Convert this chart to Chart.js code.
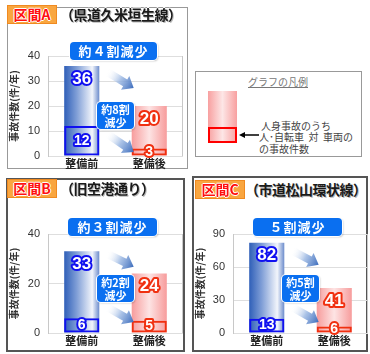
<!DOCTYPE html>
<html>
<head>
<meta charset="utf-8">
<script src="https://cdn.jsdelivr.net/npm/chart.js@4"></script>
<style>
  body { margin: 0; width: 370px; height: 354px; background: #fff; position: relative; overflow: hidden;
         font-family: 'Noto Sans CJK JP', sans-serif; }
  .abs { position: absolute; }
  .panel { position: absolute; box-sizing: border-box; }
  .tag { position: absolute; box-sizing: border-box; background: #f9a640; border: 1px solid #f08a20;
         color: #ff1010; font-weight: bold; font-size: 14px; line-height: 17px; text-align: center;
         text-shadow: -1px 0 #fff, 1px 0 #fff, 0 -1px #fff, 0 1px #fff; }
  .road { position: absolute; font-weight: bold; font-size: 14px; line-height: 18px; color: #1a1a1a; white-space: nowrap;
          letter-spacing: -0.5px;
          text-shadow: 1px 1px 0 #bbb, -1px 0 #fff, 0 -1px #fff; }
  .bubble { position: absolute; box-sizing: border-box; background: #0a6ff0; color: #fff; font-weight: bold;
            border-radius: 4px; text-align: center; box-shadow: 0 0 0 1px #fff, 1px 1px 2px rgba(0,0,0,0.3); }
  .big { font-size: 13px; line-height: 18px; letter-spacing: 1px; }
  .small { font-size: 11px; line-height: 13px; padding-top: 1px; }
  canvas { position: absolute; }
  .lg { position: absolute; font-size: 10px; line-height: 11px; color: #444; white-space: pre; }
</style>
</head>
<body>
<!-- panels -->
<div class="panel" style="left:7px;top:7px;width:181px;height:162px;border:1px solid #999;"></div>
<div class="panel" style="left:6px;top:178px;width:179px;height:174px;border:2px solid #555;"></div>
<div class="panel" style="left:192px;top:176px;width:176px;height:176px;border:2px solid #555;"></div>

<!-- legend -->
<div class="panel" style="left:195px;top:71px;width:167px;height:86px;border:1px solid #999;"></div>
<div class="lg" style="left:248px;top:76px;color:#777;text-decoration:underline;">グラフの凡例</div>
<div class="abs" style="left:208px;top:91px;width:29px;height:52px;background:linear-gradient(to right,#f8a0a0,#fde6e6 50%,#f8a0a0);"></div>
<div class="abs" style="left:208px;top:127px;width:29px;height:16px;box-sizing:border-box;border:2px solid #f00;"></div>
<svg class="abs" style="left:238px;top:130px;" width="22" height="10">
  <line x1="21" y1="5" x2="5" y2="5" stroke="#000" stroke-width="1.5"/>
  <polygon points="1,5 7,2 7,8" fill="#000"/>
</svg>
<div class="lg" style="left:261px;top:120px;">人身事故のうち</div>
<div class="lg" style="left:259px;top:131px;">人･自転車  対  車両の</div>
<div class="lg" style="left:259px;top:143px;">の事故件数</div>

<canvas id="chartA" width="175" height="134" style="left:8px;top:40px;"></canvas>
<canvas id="chartB" width="175" height="141" style="left:8px;top:210px;"></canvas>
<canvas id="chartC" width="174" height="141" style="left:194px;top:210px;"></canvas>

<div id="overlay"></div>

<script>
const categories = ['整備前', '整備後'];
const sectionNames = ['区間A', '区間B', '区間C'];
const roadNames = ['（県道久米垣生線）', '（旧空港通り）', '（市道松山環状線）'];

const totalA = [36, 20];
const bikeA = [12, 3];
const totalB = [33, 24];
const bikeB = [6, 5];
const totalC = [82, 41];
const bikeC = [13, 6];

const axisMax = [40, 40, 90];
const axisStep = [10, 20, 30];

const overallLabels = ['約４割減少', '約３割減少', '５割減少'];
const bikeLabels = [['約8割', '減少'], ['約2割', '減少'], ['約5割', '減少']];

// page layout of the titles and bubbles (positions only)
const tagPos = [[7, 5], [7, 179], [195, 180]];
const roadPos = [[60, 5], [60, 179], [245, 180]];
const bigBubblePos = [[70, 42, 87], [68, 218, 89], [253, 218, 89]];
const smallBubblePos = [[97, 102], [97, 275], [282, 275]];

const overlay = document.getElementById('overlay');
for (let i = 0; i < 3; i++) {
    overlay.innerHTML += `
      <div class="tag" style="left:${tagPos[i][0]}px;top:${tagPos[i][1]}px;width:50px;height:19px;">${sectionNames[i]}</div>
      <div class="road" style="left:${roadPos[i][0]}px;top:${roadPos[i][1]}px;">${roadNames[i]}</div>
      <div class="bubble big" style="left:${bigBubblePos[i][0]}px;top:${bigBubblePos[i][1]}px;width:${bigBubblePos[i][2]}px;height:18px;">${overallLabels[i]}</div>
      <div class="bubble small" style="left:${smallBubblePos[i][0]}px;top:${smallBubblePos[i][1]}px;width:37px;height:27px;">${bikeLabels[i][0]}<br>${bikeLabels[i][1]}</div>
    `;
}

const BAR_PCT = 0.52;
const blueLine = '#1010f0';
const redLine = '#f03010';

function barGradient(ctx) {
    if (ctx.type !== 'data') return '#8aa6dc';
    const chart = ctx.chart;
    const xs = chart.scales.x;
    if (!chart.chartArea || !xs) return ctx.dataIndex === 0 ? '#8aa6dc' : '#f8b0b0';
    const cx = xs.getPixelForValue(ctx.dataIndex);
    const half = xs.width / categories.length * BAR_PCT / 2;
    const g = chart.ctx.createLinearGradient(cx - half, 0, cx + half, 0);
    if (ctx.dataIndex === 0) {
        g.addColorStop(0, '#2f5fb8');
        g.addColorStop(0.35, '#7e9dd6');
        g.addColorStop(0.8, '#f2f5fb');
        g.addColorStop(1, '#6c8ccc');
    } else {
        g.addColorStop(0, '#f79c9c');
        g.addColorStop(0.5, '#fde4e4');
        g.addColorStop(1, '#f79c9c');
    }
    return g;
}

const framePlugin = {
    id: 'frame',
    beforeDatasetsDraw(chart) {
        const a = chart.chartArea;
        const c = chart.ctx;
        c.save();
        c.strokeStyle = '#c8c8c8';
        c.lineWidth = 1;
        c.beginPath();
        c.moveTo(Math.round(a.right) - 0.5, a.top);
        c.lineTo(Math.round(a.right) - 0.5, a.bottom);
        c.stroke();
        c.restore();
    }
};

function drawArrow(c, x1, y1, x2, y2) {
    const ang = Math.atan2(y2 - y1, x2 - x1);
    const len = Math.hypot(x2 - x1, y2 - y1);
    c.save();
    c.translate(x1, y1);
    c.rotate(ang);
    const g = c.createLinearGradient(0, 0, len, 0);
    g.addColorStop(0, 'rgba(255,255,255,0)');
    g.addColorStop(0.5, 'rgba(150,180,225,0.8)');
    g.addColorStop(1, '#3c6cbc');
    c.fillStyle = g;
    c.beginPath();
    c.moveTo(0, -4);
    c.lineTo(len - 10, -4);
    c.lineTo(len - 10, -8);
    c.lineTo(len, 0);
    c.lineTo(len - 10, 8);
    c.lineTo(len - 10, 4);
    c.lineTo(0, 4);
    c.closePath();
    c.fill();
    c.restore();
}

function makeArrowPlugin(fracs) {
    return {
        id: 'arrows',
        afterDatasetsDraw(chart) {
            const meta = chart.getDatasetMeta(0);
            const b0 = meta.data[0];
            const b1 = meta.data[1];
            const ys = chart.scales.y;
            const x1 = b0.x + b0.width / 2 + 8;
            const x2 = b1.x - b1.width / 2 + 2;
            for (const f of fracs) {
                drawArrow(chart.ctx, x1, ys.getPixelForValue(ys.max * f[0]), x2, ys.getPixelForValue(ys.max * f[1]));
            }
        }
    };
}

function outlinedText(c, text, x, y, color, size) {
    c.save();
    c.font = 'bold ' + size + 'px "Liberation Sans", Arial, sans-serif';
    c.textAlign = 'center';
    c.textBaseline = 'middle';
    c.lineJoin = 'round';
    c.lineWidth = 4;
    c.strokeStyle = color;
    c.strokeText(text, x, y);
    c.fillStyle = '#fff';
    c.fillText(text, x, y);
    c.restore();
}

const labelPlugin = {
    id: 'valueLabels',
    afterDatasetsDraw(chart) {
        const c = chart.ctx;
        const totals = chart.getDatasetMeta(0);
        const bikes = chart.getDatasetMeta(1);
        totals.data.forEach((bar, i) => {
            const v = chart.data.datasets[0].data[i];
            outlinedText(c, String(v), bar.x, bar.y + 13, i === 0 ? blueLine : redLine, 17);
        });
        bikes.data.forEach((bar, i) => {
            const v = chart.data.datasets[1].data[i];
            outlinedText(c, String(v), bar.x, (bar.y + bar.base) / 2, i === 0 ? blueLine : redLine, 14);
        });
    }
};

function makeChart(id, totals, bikes, max, step, padTop, axisWidth, fracs) {
    return new Chart(document.getElementById(id), {
        type: 'bar',
        data: {
            labels: categories,
            datasets: [
                {
                    data: totals,
                    backgroundColor: barGradient,
                    borderWidth: 0,
                    grouped: false,
                    order: 2,
                    barPercentage: BAR_PCT,
                    categoryPercentage: 1,
                },
                {
                    data: bikes,
                    backgroundColor: 'rgba(0,0,0,0)',
                    borderColor: [blueLine, redLine],
                    borderWidth: 2,
                    borderSkipped: false,
                    grouped: false,
                    order: 1,
                    barPercentage: BAR_PCT,
                    categoryPercentage: 1,
                },
            ],
        },
        options: {
            responsive: false,
            animation: false,
            layout: { padding: { top: padTop, right: 0, left: 0, bottom: 0 } },
            plugins: { legend: { display: false }, tooltip: { enabled: false } },
            scales: {
                x: {
                    grid: { display: false, drawTicks: false },
                    border: { display: false },
                    ticks: {
                        padding: 1,
                        color: '#222',
                        font: { family: '"Noto Sans CJK JP"', size: 11, weight: 'bold' },
                    },
                    afterFit(scale) { scale.height = 18; },
                },
                y: {
                    min: 0,
                    max: max,
                    ticks: {
                        stepSize: step,
                        padding: 8,
                        color: '#333',
                        font: { family: '"Liberation Sans", Arial', size: 11 },
                    },
                    grid: { color: '#dedede', drawTicks: false },
                    border: { color: '#c8c8c8' },
                    title: {
                        display: true,
                        text: '事故件数(件/年)',
                        color: '#333',
                        padding: 0,
                        font: { family: '"Noto Sans CJK JP"', size: 10, weight: 'bold' },
                    },
                    afterFit(scale) { scale.width = axisWidth; },
                },
            },
        },
        plugins: [framePlugin, makeArrowPlugin(fracs), labelPlugin],
    });
}

makeChart('chartA', totalA, bikeA, axisMax[0], axisStep[0], 16, 40, [[0.84, 0.68], [0.22, 0.04]]);
makeChart('chartB', totalB, bikeB, axisMax[1], axisStep[1], 24, 40, [[0.8, 0.67], [0.26, 0.11]]);
makeChart('chartC', totalC, bikeC, axisMax[2], axisStep[2], 24, 39, [[0.83, 0.69], [0.26, 0.11]]);
</script>
</body>
</html>
